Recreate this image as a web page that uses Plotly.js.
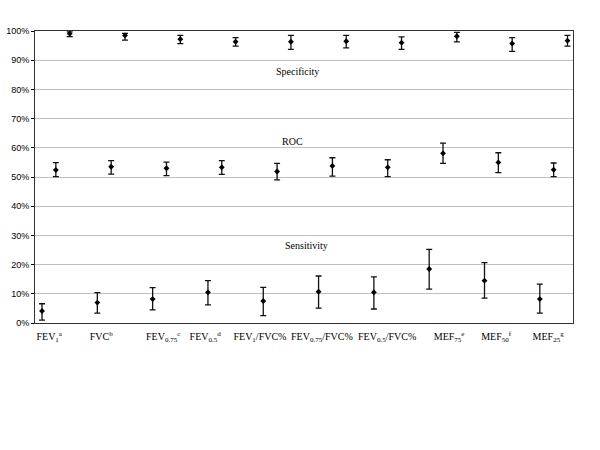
<!DOCTYPE html>
<html>
<head>
<meta charset="utf-8">
<script src="https://cdn.plot.ly/plotly-3.0.1.min.js"></script>
<style>
  body { margin: 0; background: #fff; }
  #plot-div { width: 600px; height: 450px; }
</style>
</head>
<body>
<div id="plot-div"></div>
<script>
  // spirometry indices
  var categories = [
    "FEV<sub>1</sub><sup>a</sup>",
    "FVC<sup>b</sup>",
    "FEV<sub>0.75</sub><sup>c</sup>",
    "FEV<sub>0.5</sub><sup>d</sup>",
    "FEV<sub>1</sub>/FVC%",
    "FEV<sub>0.75</sub>/FVC%",
    "FEV<sub>0.5</sub>/FVC%",
    "MEF<sub>75</sub><sup>e</sup>",
    "MEF<sub>50</sub><sup>f</sup>",
    "MEF<sub>25</sub><sup>g</sup>"
  ];

  // values in %, with lower / upper CI
  var sensVal  = [4.1, 7.0, 8.2, 10.5, 7.5, 10.7, 10.5, 18.5, 14.5, 8.2];
  var sensLow  = [1.0, 3.4, 4.5, 6.2, 2.5, 5.1, 4.8, 11.6, 8.5, 3.4];
  var sensHigh = [6.6, 10.4, 12.1, 14.5, 12.2, 16.1, 15.8, 25.2, 20.7, 13.3];

  var rocVal  = [52.4, 53.5, 53.0, 53.3, 51.9, 53.8, 53.3, 58.1, 55.0, 52.5];
  var rocLow  = [50.1, 51.0, 50.5, 50.9, 49.0, 50.3, 50.1, 54.7, 51.5, 50.1];
  var rocHigh = [54.9, 55.6, 55.1, 55.6, 54.7, 56.6, 55.9, 61.6, 58.3, 54.8];

  var specVal  = [99.1, 98.5, 97.2, 96.3, 96.3, 96.5, 96.0, 98.2, 95.7, 96.7];
  var specLow  = [98.1, 96.9, 95.7, 94.8, 93.7, 94.2, 93.7, 96.3, 93.0, 94.8];
  var specHigh = [99.7, 99.2, 98.5, 97.7, 98.5, 98.5, 98.0, 99.5, 97.7, 98.5];

  var seriesNames = ["Sensitivity", "ROC", "Specificity"];

  // where each category label sits along the x axis (label boxes are not evenly spaced)
  var labelPos = [0.13, 1.07, 2.19, 2.95, 3.94, 5.06, 6.24, 7.36, 8.21, 9.15];

  function makeTrace(vals, lows, highs, offset, name) {
    return {
      x: vals.map((v, i) => i + offset),
      y: vals,
      name: name,
      mode: "markers",
      type: "scatter",
      marker: { symbol: "diamond", size: 4.5, color: "#000" },
      error_y: {
        type: "data",
        symmetric: false,
        array: highs.map((h, i) => h - vals[i]),
        arrayminus: lows.map((l, i) => vals[i] - l),
        color: "#111",
        thickness: 1.3,
        width: 3
      },
      showlegend: false,
      hoverinfo: "y"
    };
  }

  var data = [
    makeTrace(sensVal, sensLow, sensHigh, 0, seriesNames[0]),
    makeTrace(rocVal, rocLow, rocHigh, 0.25, seriesNames[1]),
    makeTrace(specVal, specLow, specHigh, 0.5, seriesNames[2])
  ];

  var labelFont = { family: "Liberation Serif, Times New Roman, serif", size: 10, color: "#000" };

  var layout = {
    width: 600,
    height: 450,
    margin: { l: 35, r: 27, t: 31, b: 127 },
    paper_bgcolor: "#fff",
    plot_bgcolor: "#fff",
    xaxis: {
      range: [-0.127, 9.6],
      tickvals: labelPos,
      ticktext: categories,
      tickfont: labelFont,
      tickangle: 0,
      ticklabelstandoff: 4,
      showgrid: false,
      zeroline: false,
      showline: true,
      linecolor: "#333",
      linewidth: 1,
      mirror: true,
      ticks: ""
    },
    yaxis: {
      range: [0, 100],
      dtick: 10,
      ticksuffix: "%",
      tickfont: { family: "Liberation Sans, Arial, sans-serif", size: 9, color: "#000" },
      showgrid: true,
      gridcolor: "#c0c0c0",
      gridwidth: 1,
      zeroline: false,
      showline: true,
      linecolor: "#333",
      linewidth: 1,
      mirror: true,
      ticks: "outside",
      ticklen: 3,
      tickcolor: "#000"
    },
    annotations: [
      { x: 4.61, y: 86.3, text: seriesNames[2], showarrow: false, font: labelFont },
      { x: 4.52, y: 62.0, text: seriesNames[1], showarrow: false, font: labelFont },
      { x: 4.79, y: 26.7, text: seriesNames[0], showarrow: false, font: labelFont }
    ]
  };

  Plotly.newPlot("plot-div", data, layout, { displayModeBar: false, staticPlot: true });
</script>
</body>
</html>
